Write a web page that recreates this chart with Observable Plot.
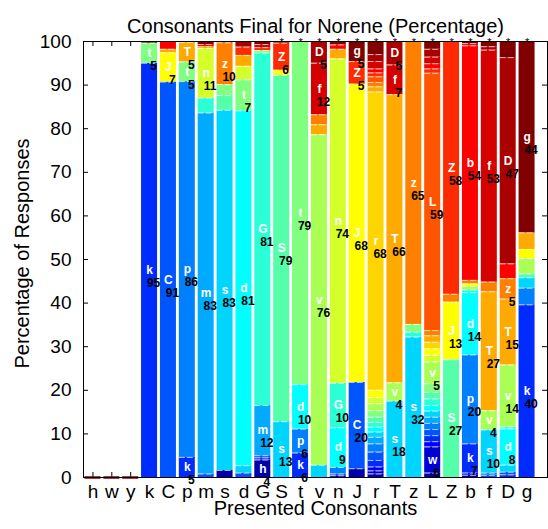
<!DOCTYPE html>
<html><head><meta charset="utf-8">
<script src="https://cdn.jsdelivr.net/npm/d3@7"></script>
<script src="https://cdn.jsdelivr.net/npm/@observablehq/plot@0.6"></script>
<style>body{margin:0;background:#fff} #chart{width:548px;height:529px}</style>
</head><body><div id="chart"></div>
<script>
// Consonant categories (presented and response), in stack order bottom -> top
const consonants = ["h","w","y","k","C","p","m","s","d","G","S","t","v","n","J","r","T","z","L","Z","b","f","D","g"];
// jet(24) colormap, one colour per response consonant
const jetColors = ["#0000AA","#0000D5","#0000FF","#002BFF","#0055FF","#0080FF","#00AAFF","#00D5FF","#00FFFF","#2BFFD5","#55FFAA","#80FF80","#AAFF55","#D5FF2B","#FFFF00","#FFD500","#FFAA00","#FF8000","#FF5500","#FF2B00","#FF0000","#D50000","#AA0000","#800000"];
const yTicks = [0,10,20,30,40,50,60,70,80,90,100];
const starred = ["S","t","v","n","J","r","T","z","L","Z","b","f","D","g"];
const emptyCols = ["h","w","y"];

// Percentage of responses per presented consonant: [response, percent]
const col_h = [];
const col_w = [];
const col_y = [];
const col_k = [["k",95],["t",4.6],["g",0.4]];
const col_C = [["C",90.7],["J",6.7],["T",0.8],["b",1.8]];
const col_p = [["k",4.6],["p",86.2],["t",4.5],["T",4.5],["b",0.2]];
const col_m = [["C",0.8],["m",82.8],["G",3.4],["n",11.4],["T",0.4],["b",0.5],["g",0.7]];
const col_s = [["h",1.6],["s",82.6],["S",3.4],["t",2.5],["z",9.6],["g",0.3]];
const col_d = [["C",1.0],["s",1.7],["d",81.4],["t",7.1],["n",3.1],["T",2.5],["Z",1.9],["D",1.3]];
const col_G = [["h",4.0],["k",0.5],["C",0.5],["m",11.5],["G",80.8],["t",0.6],["Z",0.7],["f",0.7],["g",0.7]];
const col_S = [["s",12.8],["S",79.4],["J",1.2],["Z",6.2],["g",0.4]];
const col_t = [["k",5.6],["p",5.5],["d",10.2],["t",78.7]];
const col_v = [["s",2.8],["v",75.8],["T",2.3],["z",2.3],["f",11.8],["D",5.0]];
const col_n = [["h",0.4],["C",0.4],["p",1.5],["d",9.1],["G",10.2],["n",74.4],["T",2.2],["b",1.0],["g",0.8]];
const col_J = [["h",2.0],["C",19.8],["J",68.4],["Z",5.2],["g",4.6]];
const col_r = [["h",0.8],["w",0.7],["y",0.9],["k",1.5],["C",1.9],["p",1.9],["m",1.5],["s",1.2],["d",1.1],["G",1.1],["S",1.2],["t",1.5],["v",1.6],["n",1.4],["J",1.7],["r",68.4],["T",1.2],["z",1.0],["L",1.3],["Z",0.9],["b",0.9],["f",1.7],["D",1.6],["g",3.0]];
const col_T = [["s",17.5],["v",4.2],["T",66.1],["f",6.8],["D",5.4]];
const col_z = [["s",32.2],["G",1.1],["t",1.8],["z",64.9]];
const col_L = [["h",1.0],["w",6.0],["y",1.2],["k",1.4],["C",1.4],["p",1.4],["m",1.4],["s",1.4],["d",1.3],["G",1.5],["S",1.5],["t",2.0],["v",5.0],["n",1.5],["J",1.5],["r",1.5],["T",1.5],["z",1.2],["L",59.0],["Z",1.0],["b",1.2],["f",1.5],["D",1.8],["g",1.8]];
const col_Z = [["S",27.0],["J",13.2],["z",1.8],["Z",58.0]];
const col_b = [["h",0.5],["y",0.5],["k",6.7],["p",20.4],["d",14.3],["G",0.6],["v",0.8],["J",0.6],["z",0.8],["b",53.8],["f",0.5],["g",0.5]];
const col_f = [["C",0.5],["p",0.5],["s",9.9],["v",4.4],["T",27.3],["z",2.2],["f",53.2],["D",0.8],["g",1.2]];
const col_D = [["k",0.6],["C",0.6],["s",1.6],["d",8.3],["G",0.5],["v",14.2],["T",15.1],["z",4.7],["b",3.4],["D",47.3],["g",3.7]];
const col_g = [["k",39.6],["p",3.8],["s",2.4],["S",0.9],["v",3.5],["J",2.1],["T",3.8],["g",43.9]];

const columns = {h:col_h,w:col_w,y:col_y,k:col_k,C:col_C,p:col_p,m:col_m,s:col_s,d:col_d,G:col_G,S:col_S,t:col_t,v:col_v,n:col_n,J:col_J,r:col_r,T:col_T,z:col_z,L:col_L,Z:col_Z,b:col_b,f:col_f,D:col_D,g:col_g};

const table = [];
for (const pc of consonants) {
  const rows = columns[pc].slice().sort((a,b) => consonants.indexOf(a[0]) - consonants.indexOf(b[0]));
  for (const [resp, val] of rows) table.push({presented: pc, response: resp, value: val});
}

const mL = 83, mR = 1, mT = 41, mB = 52, W = 548, H = 529;
const fw = W - mL - mR, fh = H - mT - mB;
const font = "'Liberation Sans', Arial, Helvetica, sans-serif";

const chart = Plot.plot({
  width: W, height: H,
  marginLeft: mL, marginRight: mR, marginTop: mT, marginBottom: mB,
  style: {fontFamily: font, background: "white", color: "black"},
  x: {domain: consonants, range: [83, 536], round: false, paddingInner: 0.152, paddingOuter: 0.076, label: null},
  y: {domain: [0, 100], label: null},
  color: {domain: consonants, range: jetColors},
  marks: [
    Plot.tickY(yTicks, {y: d => d, insetRight: fw - 5, stroke: "black"}),
    Plot.tickY(yTicks, {y: d => d, insetLeft: fw - 5, stroke: "black"}),
    Plot.tickX(consonants, {x: d => d, insetTop: fh - 5, stroke: "black"}),
    Plot.tickX(consonants, {x: d => d, insetBottom: fh - 5, stroke: "black"}),
    Plot.barY(table, {x: "presented", y: "value", fill: "response"}),
    Plot.tickY(table, Plot.stackY2({x: "presented", y: "value", stroke: "white", strokeOpacity: 0.7, strokeDasharray: "6,2"})),
    Plot.tickY(emptyCols, {x: d => d, y: () => 0, stroke: "#800000", strokeWidth: 2.5}),
    Plot.text(table, Plot.stackY({x: "presented", y: "value", text: d => d.value >= 4 ? d.response : "", fill: "white", fontWeight: "bold", fontSize: 12})),
    Plot.text(table, Plot.stackY({x: "presented", y: "value", text: d => d.value >= 4 ? String(Math.round(d.value)) : "", fill: "black", fontWeight: "bold", fontSize: 12, dx: 4, dy: 13})),
    Plot.axisY(yTicks, {anchor: "left", tickSize: 0, tickPadding: 12, fontSize: 19, label: null}),
    Plot.axisX({anchor: "bottom", tickSize: 0, tickPadding: 7, fontSize: 19, label: null}),
    Plot.frame({stroke: "black"}),
    Plot.text(starred, {x: d => d, frameAnchor: "top", text: () => "*", dy: -3, fontSize: 11}),
    Plot.text(["Consonants Final for Norene (Percentage)"], {text: d => d, frameAnchor: "top", dy: -23, fontSize: 20}),
    Plot.text(["Presented Consonants"], {text: d => d, frameAnchor: "bottom", dy: 37, fontSize: 20}),
    Plot.text(["Percentage of Responses"], {text: d => d, frameAnchor: "left", textAnchor: "middle", dx: -61, dy: -6, rotate: -90, fontSize: 20})
  ]
});
document.getElementById("chart").appendChild(chart);
</script>
</body></html>
